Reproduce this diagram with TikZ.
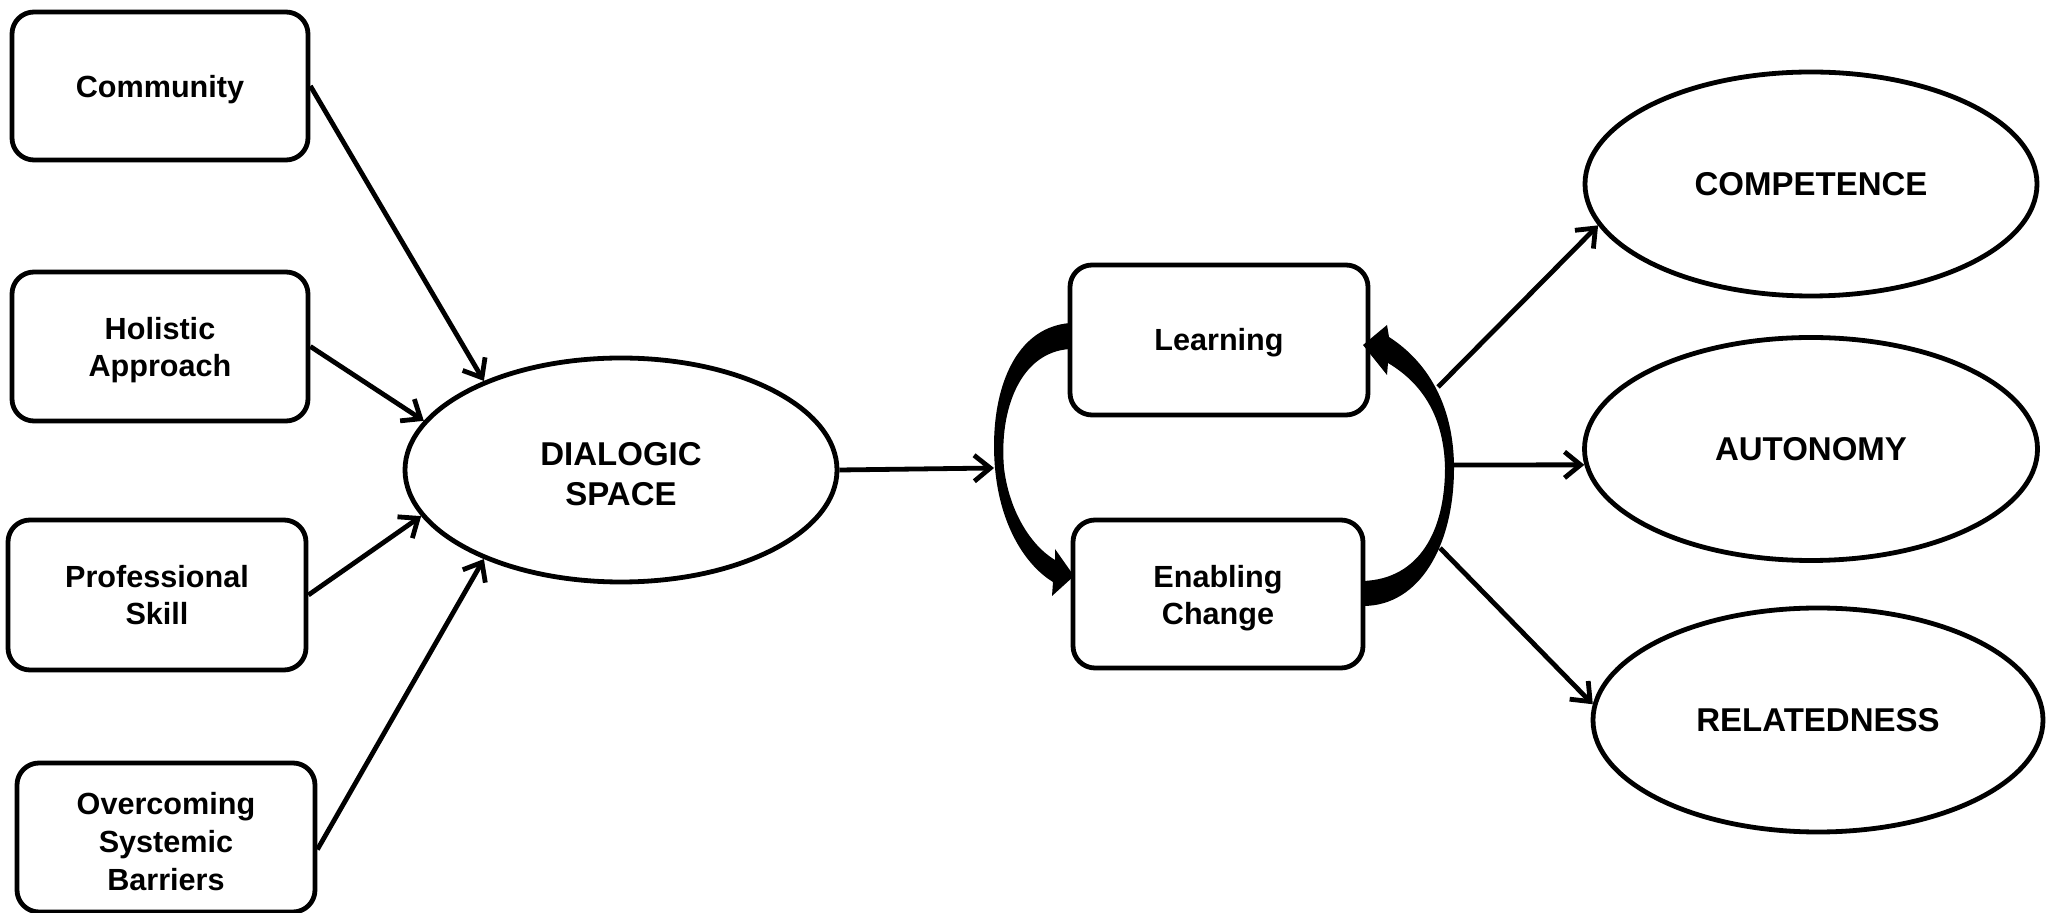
\documentclass[tikz,border=0pt]{standalone}
\usepackage{fontspec}
\setmainfont{Liberation Sans}
\usetikzlibrary{arrows.meta,shapes.geometric}
\begin{document}
\begin{tikzpicture}[x=0.5pt,y=-0.5pt,
  box/.style={draw, line width=2.4pt, rounded corners=11pt, inner sep=0pt},
  oval/.style={draw, ellipse, line width=2.4pt, inner sep=0pt},
  txtb/.style={align=center, inner sep=0pt, font=\fontsize{15.3}{18.5}\selectfont\bfseries},
  txto/.style={align=center, inner sep=0pt, font=\fontsize{16.5}{20}\selectfont\bfseries},
  arr/.style={line width=2.4pt, -{Straight Barb[length=8pt,width=13pt]}},
  taper/.style={fill=black, draw=none}]
\useasboundingbox (0,0) rectangle (2051,913);

\node[box, minimum width=148pt, minimum height=74pt] (comm) at (160,86) {};
\node[box, minimum width=148pt, minimum height=74.5pt] (hol) at (160,346.5) {};
\node[box, minimum width=149pt, minimum height=75pt] (prof) at (157,595) {};
\node[box, minimum width=149pt, minimum height=74.5pt] (over) at (166,837.5) {};
\node[box, minimum width=149pt, minimum height=75pt] (learn) at (1219,340) {};
\node[box, minimum width=145pt, minimum height=74pt] (enab) at (1218,594) {};

\node[txtb] (commT) at ([yshift=-2pt]comm.center) {Community};
\node[txtb] (holT) at ([yshift=-2pt]hol.center) {Holistic\\Approach};
\node[txtb] (profT) at (prof.center) {Professional\\Skill};
\node[txtb, font=\fontsize{15.3}{19}\selectfont\bfseries] (overT) at ([yshift=-2pt]over.center) {Overcoming\\Systemic\\Barriers};
\node[txtb] (learnT) at ([yshift=-1.5pt]learn.center) {Learning};
\node[txtb] (enabT) at ([yshift=-2pt]enab.center) {Enabling\\Change};

\node[oval, minimum width=216pt, minimum height=112pt] (dial) at (621,470) {};
\node[txto] (dialT) at ([yshift=-2pt]dial.center) {DIALOGIC\\SPACE};
\node[oval, minimum width=226pt, minimum height=112pt, txto] (comp) at (1811,184) {COMPETENCE};
\node[oval, minimum width=226.5pt, minimum height=111.5pt, txto] (auto) at (1811,449) {AUTONOMY};
\node[oval, minimum width=225pt, minimum height=112pt, txto] (rel) at (1818,720) {RELATEDNESS};

\draw[arr] (comm.east) -- (dial.147);
\draw[arr] (hol.east) -- (dial.166);
\draw[arr] (prof.east) -- (dial.193);
\draw[arr] ([yshift=-6pt]over.east) -- (dial.213);

\coordinate (lin) at (994,468);
\draw[arr] (dial.east) -- (lin);

% tapered curved arrow: Learning -> Enabling Change
\fill[taper] (1070,323) .. controls (1010,328) and (989,400) .. (995,468)
  .. controls (1000,525) and (1025,565) .. (1053,582)
  -- (1052,596) -- (1074,576) -- (1055,549) -- (1055,560)
  .. controls (1030,545) and (1009,510) .. (1004,468)
  .. controls (999,410) and (1020,352) .. (1070,349) -- cycle;

% tapered curved arrow: Enabling Change -> Learning
\fill[taper] (1363,581) .. controls (1420,579) and (1445,530) .. (1445,468)
  .. controls (1444,420) and (1425,385) .. (1388,363)
  -- (1387,375) -- (1363,345) -- (1387,325) -- (1389,337)
  .. controls (1431,364) and (1454,410) .. (1454,468)
  .. controls (1454,545) and (1420,606) .. (1363,606) -- cycle;

\coordinate (r1) at (1438,387);
\coordinate (r2) at (1454,465);
\coordinate (r3) at (1440,548);
\draw[arr] (r1) -- (comp.191);
\draw[arr] (r2) -- (auto.184);
\draw[arr] (r3) -- (rel.176);
\end{tikzpicture}
\end{document}
